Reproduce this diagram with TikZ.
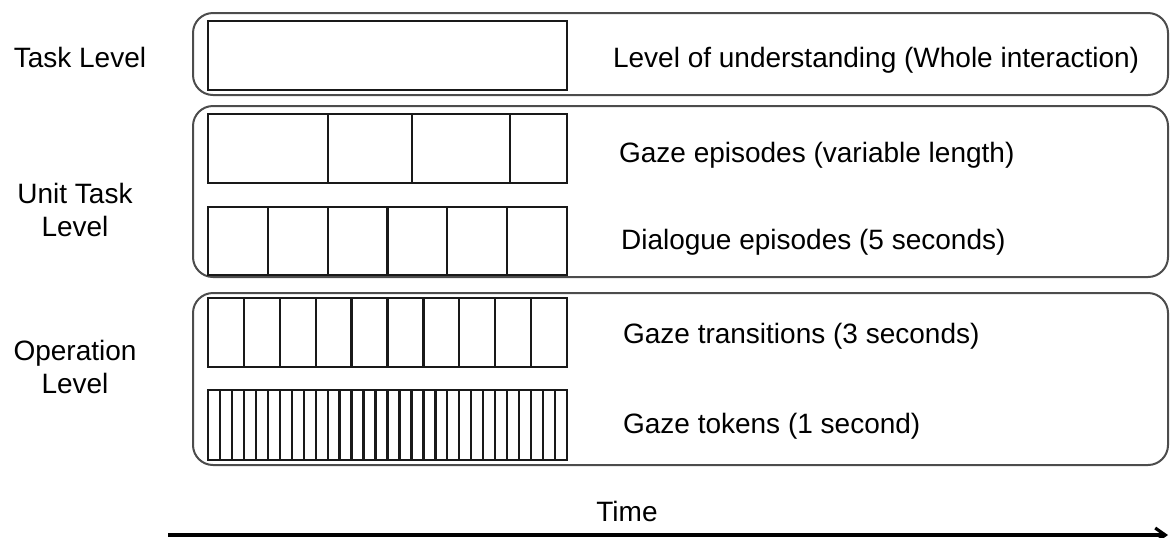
\documentclass[tikz,border=0pt]{standalone}
\usepackage{fontspec}
\setmainfont{Liberation Sans}
\usetikzlibrary{arrows.meta}

\begin{document}
\begin{tikzpicture}[x=0.5pt, y=-0.5pt,
		level/.style={draw=black!70, line width=1pt, rounded corners=10pt},
		strip/.style={draw=black!90, line width=1.15pt},
		levelname/.style={font=\fontsize{14}{16.5}\selectfont, align=center},
		rowname/.style={font=\fontsize{14}{16.5}\selectfont, anchor=base west}]

	\useasboundingbox (0,0) rectangle (1170,537);

	% the three levels
	\draw[level] (193,13) rectangle (1168,95);
	\draw[level] (193,106) rectangle (1168,277);
	\draw[level] (193,293) rectangle (1168,465);

	\node[levelname] (task) at (80,57) {Task Level};
	\node[levelname] (unit) at (75,210) {Unit Task\\Level};
	\node[levelname] (oper) at (75,367) {Operation\\Level};

	% time strips
	\draw[strip] (208,21) rectangle (567,90);
	\draw[strip] (208,114) rectangle (567,183);
	\foreach \x in {328,412,510}
		\draw[strip] (\x,114) -- (\x,183);
	\draw[strip] (208,207) rectangle (567,275);
	\foreach \i in {1,...,5}
		\draw[strip] (208+\i*59.83,207) -- (208+\i*59.83,275);
	\draw[strip] (208,298) rectangle (567,367);
	\foreach \i in {1,...,9}
		\draw[strip] (208+\i*35.9,298) -- (208+\i*35.9,367);
	\draw[strip] (208,390) rectangle (567,460);
	\foreach \i in {1,...,29}
		\draw[strip] (208+\i*11.967,390) -- (208+\i*11.967,460);

	\node[rowname] (whole) at (606,67) {Level of understanding (Whole interaction)};
	\node[rowname] (gazeep) at (612,162) {Gaze episodes (variable length)};
	\node[rowname] (dialog) at (614,249) {Dialogue episodes (5 seconds)};
	\node[rowname] (trans) at (616,343) {Gaze transitions (3 seconds)};
	\node[rowname] (tokens) at (616,433) {Gaze tokens (1 second)};

	% time axis
	\node[levelname] (time) at (627,511) {Time};
	\coordinate (t0) at (168,535);
	\coordinate (t1) at (1168,535);
	\draw[line width=1.6pt, -{Straight Barb[length=5pt, width=7pt]}] (t0) -- (t1);
\end{tikzpicture}
\end{document}
